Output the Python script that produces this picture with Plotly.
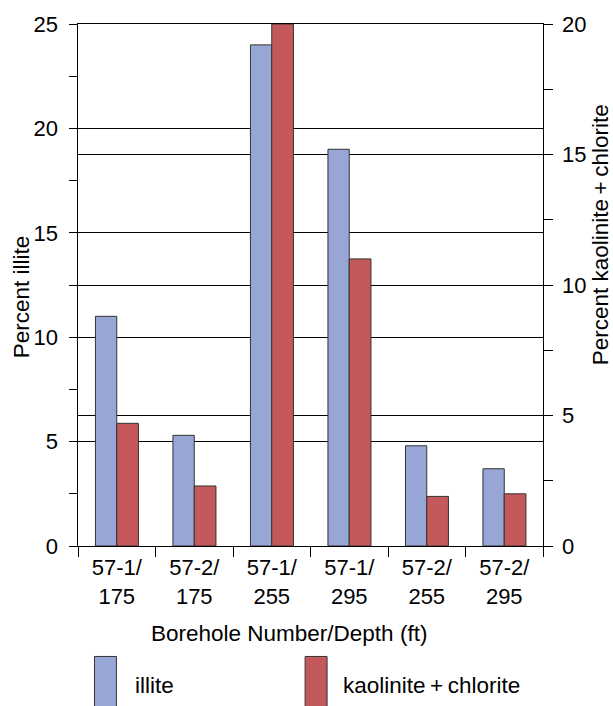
import plotly.graph_objects as go

categories = ["57-1/<br>175", "57-2/<br>175", "57-1/<br>255", "57-1/<br>295", "57-2/<br>255", "57-2/<br>295"]
illite = [11.0, 5.3, 24.0, 19.0, 4.8, 3.7]
kaolinite_chlorite = [4.7, 2.3, 20.0, 11.0, 1.9, 2.0]

BLUE = "#97A6D4"
RED = "#C4595B"
EDGE = "#333333"
FONT = "Liberation Sans, Arial, Helvetica, sans-serif"

W, H = 613, 706
L, R, T, B = 77.5, 543.3, 19.7, 545.7


def px(x):
    return (x - L) / (R - L)


def py(y):
    return (B - y) / (B - T)


fig = go.Figure()
fig.add_trace(go.Bar(
    x=categories, y=illite, name="illite", yaxis="y",
    width=0.275, offset=-0.275,
    marker=dict(color=BLUE, line=dict(color=EDGE, width=1)),
))
fig.add_trace(go.Bar(
    x=categories, y=kaolinite_chlorite, name="kaolinite+chlorite", yaxis="y2",
    width=0.28, offset=0.0,
    marker=dict(color=RED, line=dict(color=EDGE, width=1)),
))

tickfont = dict(family=FONT, size=22, color="black")

fig.update_layout(
    width=W, height=H,
    margin=dict(l=L, r=W - R, t=T, b=H - B, pad=0),
    paper_bgcolor="white", plot_bgcolor="white",
    showlegend=False,
    barmode="overlay",
    font=dict(family=FONT, size=22, color="black"),
    xaxis=dict(
        type="category", tickson="boundaries", ticks="outside", ticklen=10,
        tickcolor="black", tickwidth=1, showline=True, linecolor="black",
        linewidth=1, mirror=True, showgrid=False, tickfont=tickfont,
        ticklabelstandoff=2,
    ),
    yaxis=dict(
        range=[0, 25], dtick=5, ticks="outside", ticklen=8.5, tickcolor="black",
        showline=True, linecolor="black", linewidth=1, showgrid=True,
        gridcolor="black", gridwidth=1, zeroline=False, tickfont=tickfont,
        minor=dict(dtick=2.5, ticks="outside", ticklen=8.5, tickcolor="black", showgrid=False),
        ticklabelstandoff=6,
    ),
    yaxis2=dict(
        range=[0, 20], dtick=5, overlaying="y", side="right", ticks="outside",
        ticklen=8.5, tickcolor="black", showline=True, linecolor="black",
        linewidth=1, showgrid=True, gridcolor="black", gridwidth=1,
        zeroline=False, tickfont=tickfont,
        minor=dict(dtick=2.5, ticks="outside", ticklen=8.5, tickcolor="black", showgrid=False),
        ticklabelstandoff=5,
    ),
)

title_font = dict(family=FONT, size=22.5, color="black")
fig.add_annotation(text="Percent illite", xref="paper", yref="paper",
                   x=px(20.5), y=py(295), textangle=-90, showarrow=False,
                   xanchor="center", yanchor="middle", font=title_font)
fig.add_annotation(text="Percent kaolinite\u2009+\u2009chlorite", xref="paper", yref="paper",
                   x=px(601), y=py(232), textangle=-90, showarrow=False,
                   xanchor="center", yanchor="middle", font=title_font)
fig.add_annotation(text="Borehole Number/Depth (ft)", xref="paper", yref="paper",
                   x=px(288.5), y=py(634), showarrow=False,
                   xanchor="center", yanchor="middle", font=title_font)

# legend drawn as swatches + labels
for x0, x1, color, label, tx in [(94, 116, BLUE, "illite", 133),
                                 (305, 327, RED, "kaolinite\u2009+\u2009chlorite", 341)]:
    fig.add_shape(type="rect", xref="paper", yref="paper",
                  x0=px(x0), x1=px(x1), y0=py(657), y1=py(712),
                  fillcolor=color, line=dict(color=EDGE, width=1), layer="above")
    fig.add_annotation(text=label, xref="paper", yref="paper",
                       x=px(tx), y=py(686), showarrow=False,
                       xanchor="left", yanchor="middle", font=title_font)

fig.write_html("out.html")
